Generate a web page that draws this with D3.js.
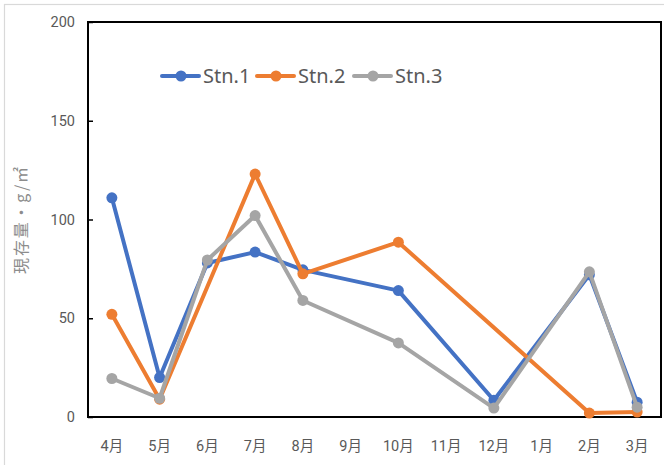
<!DOCTYPE html>
<html>
<head>
<meta charset="utf-8">
<script src="https://cdn.jsdelivr.net/npm/d3@7/dist/d3.min.js"></script>
<style>
  html, body { margin: 0; padding: 0; background: #fff; }
  svg { display: block; }
</style>
</head>
<body>
<svg id="chart" width="664" height="465"></svg>
<script>
const months = ["4月","5月","6月","7月","8月","9月","10月","11月","12月","1月","2月","3月"];
const yTicks = [0, 50, 100, 150, 200];
const seriesNames = ["Stn.1", "Stn.2", "Stn.3"];
const seriesColors = ["#4472C4", "#ED7D31", "#A5A5A5"];
const stn1 = [111, 20, 78, 83.5, 74.5, null, 64, null, 8.5, null, 72, 7.5];
const stn2 = [52, 9, null, 123, 72.5, null, 88.5, null, null, null, 2, 2.5];
const stn3 = [19.5, 9.5, 79.5, 102, 59, null, 37.5, null, 4.5, null, 73.5, 5];
const allSeries = [stn1, stn2, stn3];

const svg = d3.select("#chart");
const pL = 88, pR = 661, pT = 22, pB = 417;

// outer chart border
svg.append("rect").attr("x", 4.5).attr("y", 4.5).attr("width", 664).attr("height", 470)
  .attr("fill", "#fff").attr("stroke", "#d9d9d9").attr("stroke-width", 1.2);

const x = d3.scaleBand().domain(months).range([pL, pR]);
const y = d3.scaleLinear().domain([0, 200]).range([pB, pT]);

// plot border
svg.append("rect").attr("x", pL).attr("y", pT)
  .attr("width", pR - pL).attr("height", pB - pT)
  .attr("fill", "none").attr("stroke", "#000").attr("stroke-width", 2);

// y axis
const yAxis = d3.axisLeft(y).tickValues(yTicks).tickSizeInner(-5).tickSizeOuter(0).tickPadding(13);
const yg = svg.append("g").attr("transform", `translate(${pL},0)`).call(yAxis);
yg.select(".domain").remove();
yg.selectAll(".tick line").attr("stroke", "#000").attr("stroke-width", 1.5);
yg.selectAll(".tick text").attr("fill", "#595959").attr("font-family", "Roboto, sans-serif").attr("font-size", 14.5);

// x axis
const xAxis = d3.axisBottom(x).tickSize(0).tickPadding(24);
const xg = svg.append("g").attr("transform", `translate(0,${pB})`).call(xAxis);
xg.select(".domain").remove();
xg.selectAll(".tick text").attr("fill", "#595959").attr("font-family", "Roboto, 'Noto Sans CJK JP', sans-serif").attr("font-size", 14.5);

// y title
svg.append("text")
  .attr("transform", `translate(27,${(pT + pB) / 2}) rotate(-90)`)
  .attr("text-anchor", "middle")
  .attr("fill", "#8c8c8c")
  .attr("font-family", "'Noto Sans CJK JP', sans-serif")
  .attr("font-size", 16)
  .attr("letter-spacing", 1.8)
  .text("現存量・g/㎡");

// series
const line = d3.line()
  .defined(d => d.v != null)
  .x(d => x(d.m) + x.bandwidth() / 2)
  .y(d => y(d.v));

allSeries.forEach((vals, i) => {
  const pts = months.map((m, j) => ({ m, v: vals[j] })).filter(d => d.v != null);
  const g = svg.append("g");
  g.append("path").datum(pts).attr("d", line)
    .attr("fill", "none").attr("stroke", seriesColors[i]).attr("stroke-width", 4)
    .attr("stroke-linejoin", "round");
  g.selectAll("circle").data(pts).join("circle")
    .attr("cx", d => x(d.m) + x.bandwidth() / 2)
    .attr("cy", d => y(d.v))
    .attr("r", 5.5)
    .attr("fill", seriesColors[i]);
});

// legend
const legendX = [162, 257, 354];
seriesNames.forEach((name, i) => {
  const lg = svg.append("g").attr("transform", `translate(${legendX[i]},76)`);
  lg.append("line").attr("x1", 0).attr("x2", 37).attr("y1", 0).attr("y2", 0)
    .attr("stroke", seriesColors[i]).attr("stroke-width", 4).attr("stroke-linecap", "round");
  lg.append("circle").attr("cx", 19).attr("cy", 0).attr("r", 5.5).attr("fill", seriesColors[i]);
  lg.append("text").attr("x", 41).attr("y", 7).attr("fill", "#595959")
    .attr("font-family", "'Noto Sans', sans-serif").attr("font-size", 20).text(name);
});
</script>
</body>
</html>
